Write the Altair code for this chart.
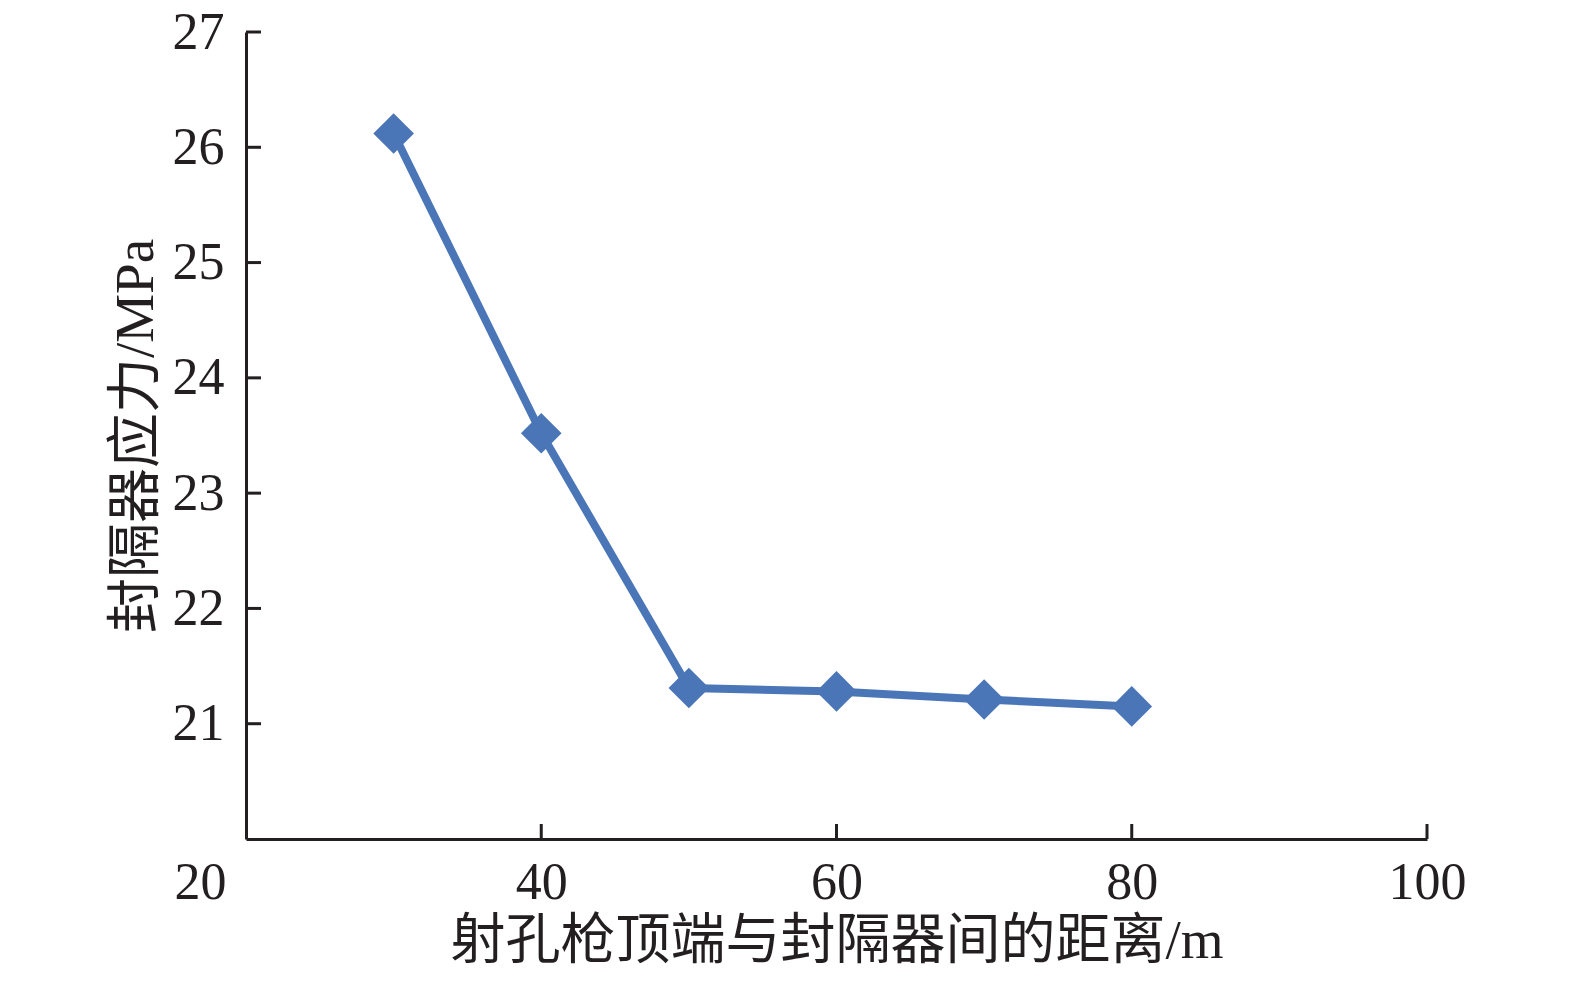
import altair as alt
import pandas as pd

distance = [30, 40, 50, 60, 70, 80]
stress = [26.12, 23.52, 21.31, 21.28, 21.21, 21.15]
y_ticks = [21, 22, 23, 24, 25, 26, 27]
x_ticks = [20, 40, 60, 80, 100]
x_inner_ticks = [40, 60, 80, 100]

FONT = "Liberation Serif, Times New Roman, Noto Sans CJK SC"
COLOR = "#4A76B8"
INK = "#231f20"

df = pd.DataFrame({"x": distance, "y": stress})
ytdf = pd.DataFrame({"y": y_ticks})
xtdf = pd.DataFrame({"x": x_inner_ticks})

xscale = alt.Scale(domain=[20, 100], nice=False, zero=False)
yscale = alt.Scale(domain=[20, 27], nice=False, zero=False)

xaxis = alt.Axis(
    title="射孔枪顶端与封隔器间的距离/m",
    values=x_ticks,
    format="d",
    grid=False,
    ticks=False,
    tickSize=0,
    domainColor=INK,
    domainWidth=3,
    labelFont=FONT,
    labelFontSize=52,
    labelColor=INK,
    labelPadding=18,
    labelAlign={"condition": {"test": "datum.value == 20", "value": "right"}, "value": "center"},
    labelOffset={"condition": {"test": "datum.value == 20", "value": -20}, "value": 0},
    labelFlush=False,
    titleFont=FONT,
    titleFontSize=55,
    titleFontWeight="normal",
    titleColor=INK,
    titlePadding=6,
)
yaxis = alt.Axis(
    title="封隔器应力/MPa",
    values=y_ticks,
    format="d",
    grid=False,
    ticks=False,
    tickSize=0,
    domainColor=INK,
    domainWidth=3,
    labelFont=FONT,
    labelFontSize=52,
    labelColor=INK,
    labelPadding=22,
    labelFlush=False,
    titleFont=FONT,
    titleFontSize=55,
    titleFontWeight="normal",
    titleColor=INK,
    titlePadding=8,
)

base = alt.Chart(df)

line = base.mark_line(color=COLOR, strokeWidth=8).encode(
    x=alt.X("x:Q", scale=xscale, axis=xaxis),
    y=alt.Y("y:Q", scale=yscale, axis=yaxis),
)
points = base.mark_point(shape="diamond", filled=True, size=1650, color=COLOR, opacity=1).encode(
    x=alt.X("x:Q", scale=xscale),
    y=alt.Y("y:Q", scale=yscale),
)

ytick_marks = alt.Chart(ytdf).mark_rule(color=INK, strokeWidth=3).encode(
    y=alt.Y("y:Q", scale=yscale),
    x=alt.value(0),
    x2=alt.value(15),
)
xtick_marks = alt.Chart(xtdf).mark_rule(color=INK, strokeWidth=3).encode(
    x=alt.X("x:Q", scale=xscale),
    y=alt.value(807),
    y2=alt.value(792),
)

chart = alt.layer(line, points, ytick_marks, xtick_marks).properties(
    width=1181,
    height=807,
    autosize=alt.AutoSizeParams(type="none"),
    padding={"left": 238, "top": 24, "right": 130, "bottom": 140},
).configure(background="white").configure_view(stroke=None)

chart.save("out.html", embed_options={"renderer": "svg", "actions": False})
